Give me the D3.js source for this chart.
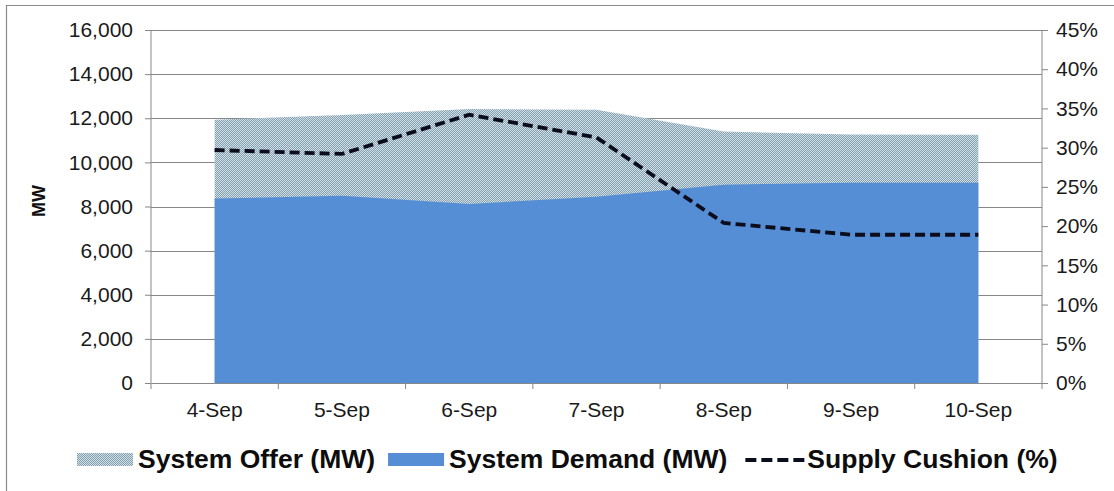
<!DOCTYPE html>
<html lang="en">
<head>
  <meta charset="UTF-8">
  <title>System Offer, Demand and Supply Cushion</title>
  <script src="https://d3js.org/d3.v7.min.js"></script>
</head>
<body style="margin: 0; background: #fff; overflow: hidden;">
<svg id="chart" width="1114" height="491" style="display: block;"></svg>
<script>
  // data
  const days = ["4-Sep", "5-Sep", "6-Sep", "7-Sep", "8-Sep", "9-Sep", "10-Sep"];
  const systemOffer = [11930, 12150, 12420, 12380, 11400, 11260, 11250];
  const systemDemand = [8360, 8490, 8110, 8440, 8990, 9080, 9080];
  const supplyCushion = [29.7, 29.2, 34.2, 31.3, 20.4, 18.9, 18.9];
  const mwTicks = [0, 2000, 4000, 6000, 8000, 10000, 12000, 14000, 16000];
  const pctTicks = [0, 5, 10, 15, 20, 25, 30, 35, 40, 45];

  const width = 1114, height = 491;
  const margin = { top: 30, right: 72, bottom: 108, left: 151 };
  const innerWidth = width - margin.left - margin.right;
  const innerHeight = height - margin.top - margin.bottom;

  const font = "'Liberation Sans', Arial, sans-serif";
  const blue = "#558ed5";
  const gridColor = "#878787";

  const svg = d3.select("#chart");

  // dotted fill like the Excel pattern
  const defs = svg.append("defs");
  const pat = defs.append("pattern")
    .attr("id", "dots")
    .attr("patternUnits", "userSpaceOnUse")
    .attr("width", 2).attr("height", 2);
  pat.append("rect").attr("width", 2).attr("height", 2).attr("fill", "#d0dee6");
  pat.append("rect").attr("width", 1).attr("height", 1).attr("fill", "#84a0b1");
  pat.append("rect").attr("x", 1).attr("y", 1).attr("width", 1).attr("height", 1).attr("fill", "#84a0b1");

  // outer frame (top and left only)
  svg.append("line").attr("x1", 6).attr("x2", width).attr("y1", 5.5).attr("y2", 5.5)
    .attr("stroke", "#8c8c8c").attr("stroke-width", 1.2);
  svg.append("line").attr("x1", 6.5).attr("x2", 6.5).attr("y1", 5).attr("y2", height)
    .attr("stroke", "#8c8c8c").attr("stroke-width", 1.2);

  const g = svg.append("g").attr("transform", `translate(${margin.left},${margin.top})`);

  const xBand = d3.scaleBand().domain(days).range([0, innerWidth]).padding(0);
  const xc = d => xBand(d) + xBand.bandwidth() / 2;
  const y = d3.scaleLinear().domain([0, 16000]).range([innerHeight, 0]);
  const y2 = d3.scaleLinear().domain([0, 45]).range([innerHeight, 0]);

  // gridlines
  g.append("g")
    .selectAll("line")
    .data(mwTicks.slice(1))
    .join("line")
    .attr("x1", 0).attr("x2", innerWidth)
    .attr("y1", d => Math.round(y(d)) + 0.5).attr("y2", d => Math.round(y(d)) + 0.5)
    .attr("stroke", gridColor).attr("stroke-width", 1);

  // areas
  const rows = days.map((d, i) => ({ day: d, offer: systemOffer[i], demand: systemDemand[i], cushion: supplyCushion[i] }));

  g.append("path")
    .datum(rows)
    .attr("fill", "url(#dots)")
    .attr("d", d3.area().x(d => xc(d.day)).y0(y(0)).y1(d => y(d.offer)));

  g.append("path")
    .datum(rows)
    .attr("fill", blue)
    .attr("d", d3.area().x(d => xc(d.day)).y0(y(0)).y1(d => y(d.demand)));

  // supply cushion line
  g.append("path")
    .datum(rows)
    .attr("fill", "none")
    .attr("stroke", "#0b0d1c")
    .attr("stroke-width", 3.8)
    .attr("stroke-dasharray", "10,5")
    .attr("d", d3.line().x(d => xc(d.day)).y(d => y2(d.cushion)));

  // left axis
  const yAxis = g.append("g")
    .call(d3.axisLeft(y).tickValues(mwTicks).tickSize(6).tickPadding(12).tickFormat(d3.format(",")));
  // right axis
  const yAxisR = g.append("g")
    .attr("transform", `translate(${innerWidth},0)`)
    .call(d3.axisRight(y2).tickValues(pctTicks).tickSize(6).tickPadding(8).tickFormat(d => d + "%"));
  // bottom axis: ticks between categories
  const xAxis = g.append("g")
    .attr("transform", `translate(0,${innerHeight})`)
    .call(d3.axisBottom(xBand).tickSize(0).tickPadding(19));
  xAxis.selectAll(".tick-sep")
    .data(days.concat(["end"]))
    .join("line")
    .attr("class", "tick-sep")
    .attr("x1", (d, i) => i * xBand.step()).attr("x2", (d, i) => i * xBand.step())
    .attr("y1", 0).attr("y2", 6)
    .attr("stroke", gridColor);

  [yAxis, yAxisR, xAxis].forEach(ax => {
    ax.attr("font-size", 21).attr("font-family", font);
    ax.select(".domain").attr("stroke", gridColor).attr("stroke-width", 1);
    ax.selectAll(".tick line").attr("stroke", gridColor);
    ax.selectAll("text")
      .attr("fill", "#1a1a1a")
      .style("font-family", font)
      .style("font-size", "21px");
  });
  yAxis.select(".domain").attr("d", `M0,0V${innerHeight}`);
  yAxisR.select(".domain").attr("d", `M0,0V${innerHeight}`);

  // y axis title
  svg.append("text")
    .attr("transform", `translate(45,201) rotate(-90)`)
    .attr("text-anchor", "middle")
    .style("font-family", font)
    .style("font-size", "18px")
    .style("font-weight", "bold")
    .attr("fill", "#111")
    .text("MW");

  // legend
  const legend = svg.append("g").attr("transform", "translate(77,459)");
  const legendItems = [
    { label: "System Offer (MW)", kind: "dots", gapAfter: 13 },
    { label: "System Demand (MW)", kind: "blue", gapAfter: 18 },
    { label: "Supply Cushion (%)", kind: "dash", gapAfter: 0 }
  ];
  let lx = 0;
  legendItems.forEach(item => {
    const it = legend.append("g").attr("transform", `translate(${lx},0)`);
    let sw = 56, pad = 5;
    if (item.kind === "dash") {
      sw = 60; pad = 2;
      it.append("line").attr("x1", 0).attr("x2", sw).attr("y1", 1).attr("y2", 1)
        .attr("stroke", "#0b0d1c").attr("stroke-width", 3.8).attr("stroke-dasharray", "11,5");
    } else {
      it.append("rect").attr("x", 0).attr("y", -6).attr("width", sw).attr("height", 13)
        .attr("fill", item.kind === "dots" ? "url(#dots)" : blue);
    }
    const t = it.append("text")
      .attr("x", sw + pad).attr("y", 9)
      .style("font-family", font)
      .style("font-size", "26.5px")
      .style("font-weight", "bold")
      .attr("fill", "#0d0d0d")
      .text(item.label);
    lx += sw + pad + t.node().getComputedTextLength() + item.gapAfter;
  });
</script>
</body>
</html>
